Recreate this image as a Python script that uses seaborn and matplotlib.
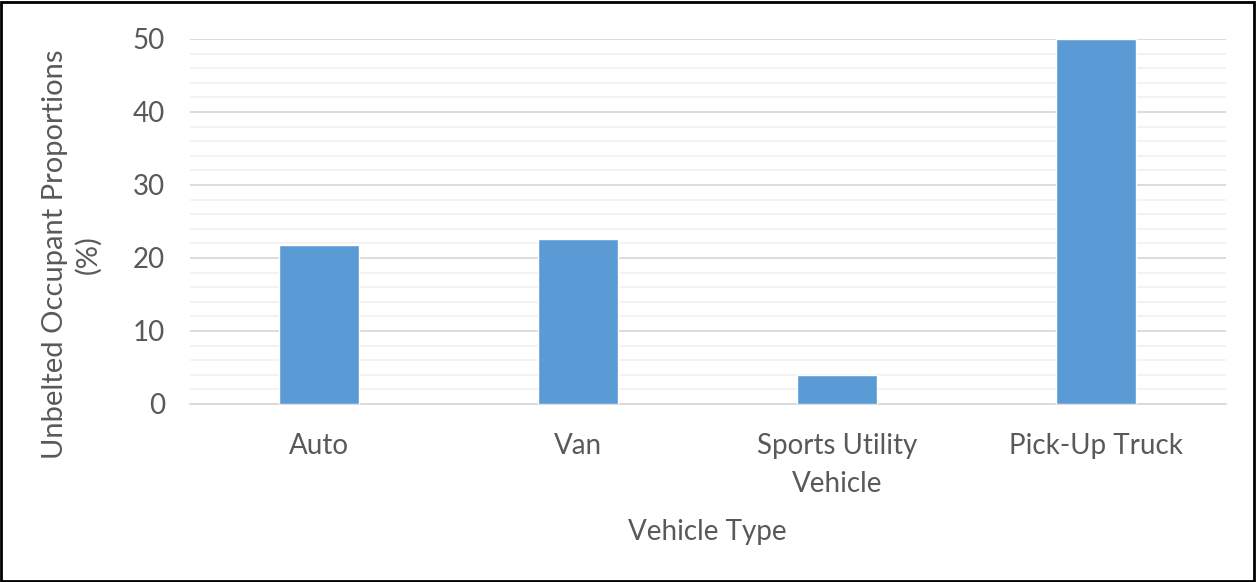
import matplotlib
matplotlib.use('Agg')
import matplotlib.pyplot as plt
from matplotlib.patches import Rectangle
from matplotlib.ticker import MultipleLocator
import seaborn as sns
import pandas as pd

categories = ['Auto', 'Van', 'Sports Utility\nVehicle', 'Pick-Up Truck']
unbelted_pct = [21.8, 22.6, 4.0, 50.0]

df = pd.DataFrame({'vehicle': categories, 'pct': unbelted_pct})

sns.set_theme(style='white')
plt.rcParams['font.family'] = ['Lato', 'DejaVu Sans']

text_color = '#595959'

fig = plt.figure(figsize=(12.57, 5.82), dpi=100)
ax = fig.add_axes([0.151, 0.306, 0.824, 0.627])

sns.barplot(data=df, x='vehicle', y='pct', color='#5B9BD5', saturation=1,
            width=0.31, ax=ax, zorder=3)

ax.set_ylim(0, 50)
ax.yaxis.set_major_locator(MultipleLocator(10))
ax.yaxis.set_minor_locator(MultipleLocator(2))
ax.grid(which='major', axis='y', color='#d9d9d9', linewidth=1.3, zorder=0)
ax.grid(which='minor', axis='y', color='#f2f2f2', linewidth=1.3, zorder=0)
ax.set_axisbelow(True)

for s in ['top', 'right', 'left']:
    ax.spines[s].set_visible(False)
ax.spines['bottom'].set_color('#d9d9d9')
ax.spines['bottom'].set_linewidth(1.3)

ax.tick_params(axis='both', which='both', length=0, labelsize=20,
               labelcolor=text_color)
ax.tick_params(axis='y', pad=18)
ax.tick_params(axis='x', pad=21)
for lbl in ax.get_xticklabels():
    lbl.set_linespacing(1.55)

ax.set_xlabel('Vehicle Type', fontsize=20, color=text_color, labelpad=16)
ax.set_ylabel('Unbelted Occupant Proportions\n(%)', fontsize=21,
              color=text_color, linespacing=1.3)
ax.yaxis.set_label_coords(-0.085, 0.41)

fig.patches.append(Rectangle((0.001, 0.002), 0.997, 0.995, transform=fig.transFigure,
                             fill=False, edgecolor='black', linewidth=2))

fig.savefig('out.png', dpi=100)
